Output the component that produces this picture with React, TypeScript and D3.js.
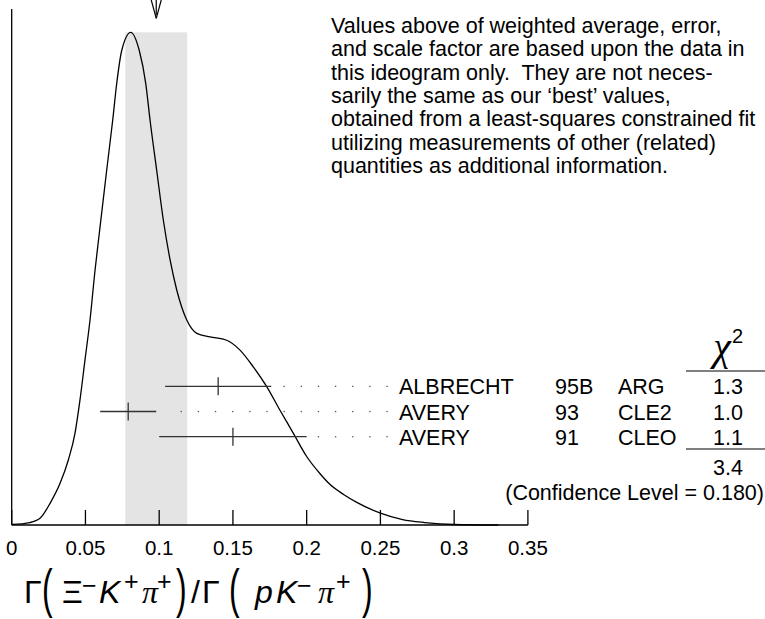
import React from 'react'
import * as d3 from 'd3'

// measurements shown in the ideogram
const names = ['ALBRECHT', 'AVERY', 'AVERY']
const years = ['95B', '93', '91']
const exps = ['ARG', 'CLE2', 'CLEO']
const values = [0.14, 0.079, 0.15]
const errors = [0.036, 0.019, 0.05]
const chi2 = ['1.3', '1.0', '1.1']
const chi2Sum = '3.4'
const confLevel = '(Confidence Level = 0.180)'

// weighted average and scaled error
const average = 0.098
const avgError = 0.021

const xTicks = [0, 0.05, 0.1, 0.15, 0.2, 0.25, 0.3, 0.35]
const xTickLabels = ['0', '0.05', '0.1', '0.15', '0.2', '0.25', '0.3', '0.35']

// ideogram curve (x value, relative height)
const curveX = [0, 0.0124, 0.0192, 0.026, 0.0328, 0.0384, 0.0429, 0.0463, 0.0497, 0.0531, 0.0565, 0.0599, 0.0644, 0.0685, 0.0712, 0.0746, 0.0807, 0.0865, 0.0909, 0.0938, 0.0983, 0.1028, 0.1074, 0.1119, 0.1187, 0.1255, 0.1345, 0.1458, 0.1548, 0.1638, 0.1729, 0.1819, 0.191, 0.2, 0.2091, 0.2159, 0.225, 0.234, 0.25, 0.265, 0.28, 0.3, 0.33]
const curveY = [0.001, 0.005, 0.0136, 0.044, 0.0846, 0.132, 0.186, 0.254, 0.335, 0.416, 0.517, 0.605, 0.72, 0.822, 0.896, 0.963, 1.0, 0.963, 0.896, 0.822, 0.72, 0.619, 0.538, 0.477, 0.416, 0.389, 0.382, 0.375, 0.355, 0.321, 0.281, 0.233, 0.186, 0.139, 0.104, 0.082, 0.062, 0.046, 0.024, 0.011, 0.005, 0.001, 0]

const note = [
  'Values above of weighted average, error,',
  'and scale factor are based upon the data in',
  'this ideogram only.  They are not neces-',
  'sarily the same as our \u2018best\u2019 values,',
  'obtained from a least-squares constrained fit',
  'utilizing measurements of other (related)',
  'quantities as additional information.',
]

const W = 765
const H = 619
const FONT = '"Liberation Sans", Arial, Helvetica, sans-serif'
const SERIF = '"Liberation Serif", "DejaVu Serif", serif'

// tall thin bracket, stretched vertically
function Paren({ x, ch }: { x: number; ch: string }) {
  return (
    <text transform={`translate(${x},607) scale(1,1.65)`} fontSize={32}>{ch}</text>
  )
}

export default function App() {
  const x = d3.scaleLinear().domain([0, 0.35]).range([11.7, 527.9])
  const y = d3.scaleLinear().domain([0, 1]).range([525, 32.3])
  const rowY = d3.scaleLinear().domain([0, 2]).range([386.3, 436.7])

  const pts = curveX.map((v, i) => [v, curveY[i]] as [number, number])
  const line = d3.line<[number, number]>().x(d => x(d[0])).y(d => y(d[1])).curve(d3.curveMonotoneX)

  const base = y(0)
  const ax = x(average)

  // dotted leaders sit on a fixed grid ending just left of the names
  const dotsFor = (i: number) => {
    const end = x(values[i] + errors[i])
    const out: number[] = []
    for (let k = 0; k < 40; k++) {
      const gx = 387 - k * 17.15
      if (gx > end + 10) out.push(gx)
    }
    return out
  }

  const sup = { fontSize: 25 }

  return (
    <svg width={W} height={H} style={{ position: 'absolute', left: 0, top: 0, background: '#fff' }} fontFamily={FONT}>
      {/* band of weighted average +- error */}
      <rect x={x(average - avgError)} y={y(1)} width={x(average + avgError) - x(average - avgError)} height={base - y(1)} fill="#e4e4e4" />

      {/* arrow */}
      <g stroke="#000" strokeWidth={1.2} fill="none">
        <line x1={ax} y1={-5} x2={ax} y2={15} />
        <line x1={ax - 5} y1={0} x2={ax} y2={18.3} />
        <line x1={ax + 5} y1={0} x2={ax} y2={18.3} />
      </g>

      {/* axes */}
      <g stroke="#000" strokeWidth={1.3}>
        <line x1={x(0)} y1={9} x2={x(0)} y2={base} />
        <line x1={x(0)} y1={base} x2={x(0.35)} y2={base} />
        {xTicks.map(t => (
          <line key={t} x1={x(t)} y1={base} x2={x(t)} y2={base - 15} />
        ))}
      </g>
      {xTicks.map((t, i) => (
        <text key={t} x={x(t)} y={555} textAnchor="middle" fontSize={20.5}>{xTickLabels[i]}</text>
      ))}

      {/* ideogram */}
      <path d={line(pts) || ''} fill="none" stroke="#000" strokeWidth={1.3} />

      {/* measurements */}
      {values.map((v, i) => (
        <g key={i}>
          <g stroke="#333" strokeWidth={1.3}>
            <line x1={x(v - errors[i])} x2={x(v + errors[i])} y1={rowY(i)} y2={rowY(i)} />
            <line x1={x(v)} x2={x(v)} y1={rowY(i) - 9} y2={rowY(i) + 9} />
          </g>
          {dotsFor(i).map(gx => (
            <rect key={gx} x={gx - 0.6} y={rowY(i) - 0.6} width={1.3} height={1.3} fill="#555" />
          ))}
          <text x={399} y={rowY(i) + 8} fontSize={21.5}>{names[i]}</text>
          <text x={555} y={rowY(i) + 8} fontSize={21.5}>{years[i]}</text>
          <text x={618} y={rowY(i) + 8} fontSize={21.5}>{exps[i]}</text>
          <text x={728} y={rowY(i) + 8} fontSize={21.5} textAnchor="middle">{chi2[i]}</text>
        </g>
      ))}

      {/* chi2 column */}
      <text x={722} y={360} fontSize={40} textAnchor="middle" fontStyle="italic" fontFamily={SERIF}>χ</text>
      <text x={732} y={342.7} fontSize={20}>2</text>
      <g stroke="#000" strokeWidth={1.2}>
        <line x1={686} x2={765} y1={371} y2={371} />
        <line x1={686} x2={765} y1={449} y2={449} />
      </g>
      <text x={728} y={475} fontSize={21.5} textAnchor="middle">{chi2Sum}</text>
      <text x={764} y={499.5} fontSize={21.5} textAnchor="end">{confLevel}</text>

      {/* note */}
      {note.map((s, i) => (
        <text key={i} x={331} y={32.8 + i * 23.4} fontSize={21.5} style={{ whiteSpace: 'pre' }}>{s}</text>
      ))}

      {/* x-axis quantity */}
      <g fontSize={32}>
        <text x={24} y={603}>Γ</text>
        <Paren x={42} ch="(" />
        <text x={62} y={603}>Ξ</text>
        <text x={82} y={594} {...sup}>−</text>
        <text x={99} y={603} fontStyle="italic">K</text>
        <text x={124} y={590} {...sup}>+</text>
        <text x={142} y={603} fontStyle="italic" fontFamily={SERIF}>π</text>
        <text x={157} y={590} {...sup}>+</text>
        <Paren x={176} ch=")" />
        <text x={191} y={603}>/</text>
        <text x={202} y={603}>Γ</text>
        <Paren x={229} ch="(" />
        <text x={255} y={603} fontStyle="italic">p</text>
        <text x={276} y={603} fontStyle="italic">K</text>
        <text x={297} y={594} {...sup}>−</text>
        <text x={318} y={603} fontStyle="italic" fontFamily={SERIF}>π</text>
        <text x={336} y={590} {...sup}>+</text>
        <Paren x={362} ch=")" />
      </g>
    </svg>
  )
}
